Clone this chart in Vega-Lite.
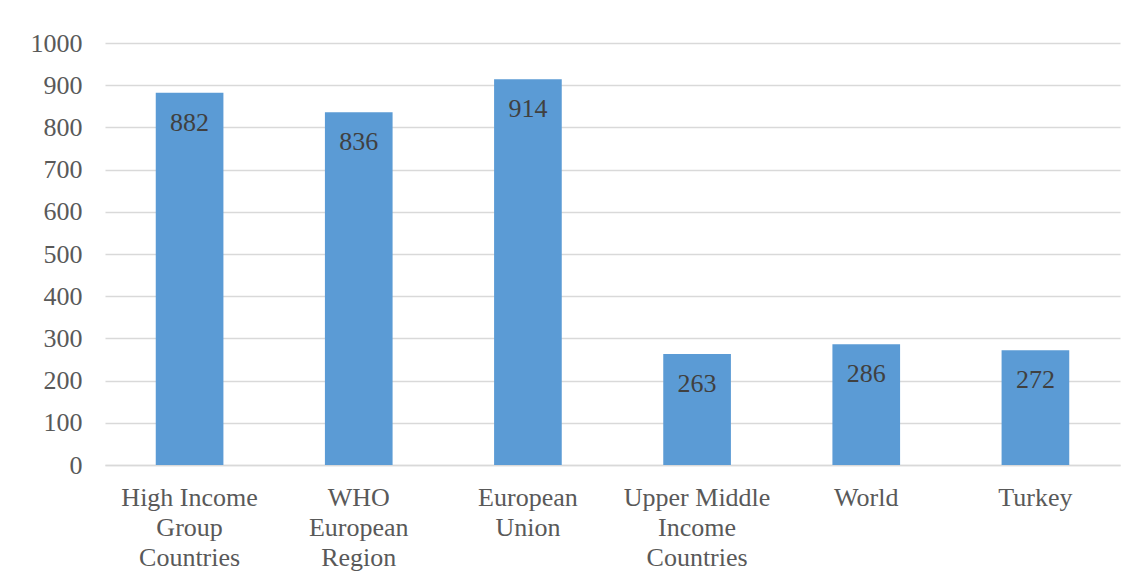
{
  "$schema": "https://vega.github.io/schema/vega-lite/v6.json",
  "autosize": {"type": "none"},
  "padding": {"left": 105, "top": 43, "right": 18, "bottom": 116},
  "width": 1015,
  "height": 422,
  "background": "white",
  "config": {
    "font": "Liberation Serif",
    "view": {"stroke": null},
    "axis": {"labelFont": "Liberation Serif", "labelFontSize": 26, "labelColor": "#595959", "gridColor": "#D9D9D9", "gridWidth": 1.3, "ticks": false, "title": null}
  },
  "data": {
    "values": [
      {"region": "High Income|Group|Countries", "value": 882},
      {"region": "WHO|European|Region", "value": 836},
      {"region": "European|Union", "value": 914},
      {"region": "Upper Middle|Income|Countries", "value": 263},
      {"region": "World", "value": 286},
      {"region": "Turkey", "value": 272}
    ]
  },
  "encoding": {
    "x": {
      "field": "region", "type": "nominal", "sort": null,
      "scale": {"paddingInner": 0.6, "paddingOuter": 0.3},
      "axis": {"labelAngle": 0, "labelExpr": "split(datum.label, '|')", "labelLineHeight": 30, "labelPadding": 19, "domainColor": "#D9D9D9", "domainWidth": 1.3, "grid": false}
    },
    "y": {
      "field": "value", "type": "quantitative",
      "scale": {"domain": [0, 1000]},
      "axis": {"values": [0,100,200,300,400,500,600,700,800,900,1000], "format": "d", "labelPadding": 23, "domain": false, "grid": true}
    }
  },
  "layer": [
    {"mark": {"type": "bar", "color": "#5B9BD5"}},
    {"mark": {"type": "text", "baseline": "alphabetic", "dy": 38, "fontSize": 26, "color": "#404040", "font": "Liberation Serif"},
     "encoding": {"text": {"field": "value", "type": "quantitative"}}}
  ]
}
